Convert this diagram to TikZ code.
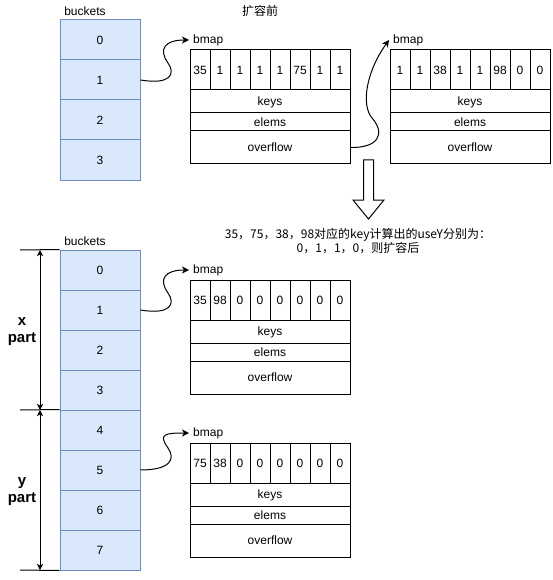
\documentclass[tikz,border=0pt]{standalone}
\usepackage{fontspec}
\setmainfont{Liberation Sans}
\newfontfamily\cjk{Noto Sans CJK SC}
\usetikzlibrary{arrows.meta}
\definecolor{bfill}{HTML}{DAE8FC}
\definecolor{bstroke}{HTML}{6C8EBF}
\tikzset{
  base/.style={inner sep=0pt, font=\fontsize{12pt}{14pt}\selectfont},
  bucket/.style={base, draw=bstroke, fill=bfill, line width=1pt, minimum width=80pt, minimum height=40pt},
  cell/.style={base, draw=black, line width=1pt, minimum width=20pt, minimum height=40pt},
  rowbox/.style={base, draw=black, line width=1pt, minimum width=160pt, text height=10pt, text depth=1.5pt},
  lbl/.style={base, inner xsep=4pt},
  conn/.style={line width=1pt, -{Stealth[length=7pt,width=7pt,inset=2pt]}},
  dim/.style={line width=1pt, {Stealth[length=6pt,width=6pt,inset=1.5pt]}-{Stealth[length=6pt,width=6pt,inset=1.5pt]}},
  tick/.style={line width=1pt},
  partlbl/.style={inner sep=0pt, align=center, font=\fontsize{15pt}{17pt}\selectfont\bfseries},
}
\newcommand{\bstruct}[4]{%
  \node[lbl, anchor=west] (#1lbl) at (#2-1,#3-10) {bmap};
  \foreach \v [count=\i from 0] in {#4} {
    \node[cell] (#1c\i) at (#2+10+20*\i,#3+20) {\v};
  }
  \node[rowbox, minimum height=23pt] (#1keys) at (#2+80,#3+51.5) {keys};
  \node[rowbox, minimum height=18pt] (#1elems) at (#2+80,#3+72) {elems};
  \node[rowbox, minimum height=33pt] (#1ovf) at (#2+80,#3+97.5) {overflow};
}
\begin{document}
\begin{tikzpicture}[x=1pt,y=-1pt]
\useasboundingbox (0,0) rectangle (552,580);

% ---------- top part ----------
\node[base] (tblbl) at (85,11) {buckets};
\node[base] (title) at (260,11) {\cjk 扩容前};
\foreach \i in {0,...,3} {
  \node[bucket] (tb\i) at (100,40+40*\i) {\i};
}
\bstruct{sa}{190}{50}{35,1,1,1,1,75,1,1}
\bstruct{sb}{390}{50}{1,1,38,1,1,98,0,0}

\coordinate (m1) at (168,63);
\draw[conn] (tb1.east) .. controls (170,85) and (176,74.2) .. (m1)
            .. controls (158,49) and (165,40) .. (salbl.west);
\coordinate (m2) at (372,118);
\draw[conn] (saovf.east) .. controls (378,148) and (386,134) .. (m2)
            .. controls (361,105) and (366,72) .. (sblbl.west);

% big hollow arrow
\draw[line width=1pt, fill=white] (363.5,160) -- (373.5,160) -- (373.5,200) -- (384,200)
  -- (368.5,219) -- (353,200) -- (363.5,200) -- cycle;

\node[base, align=center] (note) at (358,241)
  {\cjk 35，75，38，98对应的key计算出的useY分别为：\\ \cjk 0，1，1，0，则扩容后};

% ---------- bottom part ----------
\node[base] (bblbl) at (85,241) {buckets};
\foreach \i in {0,...,7} {
  \node[bucket] (bb\i) at (100,270+40*\i) {\i};
}
\bstruct{sc}{190}{280}{35,98,0,0,0,0,0,0}
\bstruct{sd}{190}{443}{75,38,0,0,0,0,0,0}

\coordinate (m3) at (168,293);
\draw[conn] (bb1.east) .. controls (170,315) and (176,304.2) .. (m3)
            .. controls (158,279) and (165,270) .. (sclbl.west);
\coordinate (m4) at (168,448);
\draw[conn] (bb5.east) .. controls (170,470) and (176,459.2) .. (m4)
            .. controls (158,434) and (165,433) .. (sdlbl.west);

% dimension lines
\coordinate (t0) at (20,250);
\coordinate (t1) at (20,410);
\coordinate (t2) at (20,570);
\draw[tick] (t0) -- (bb0.north west);
\draw[tick] (t1) -- (bb4.north west);
\draw[tick] (t2) -- (bb7.south west);
\coordinate (xa) at (40,250);
\coordinate (xb) at (40,410);
\coordinate (yb) at (40,570);
\draw[dim] (xa) -- (xb);
\draw[dim] (xb) -- (yb);
\node[partlbl] (xpart) at (22,332) {x\\part};
\node[partlbl] (ypart) at (22,492) {y\\part};
\end{tikzpicture}
\end{document}
